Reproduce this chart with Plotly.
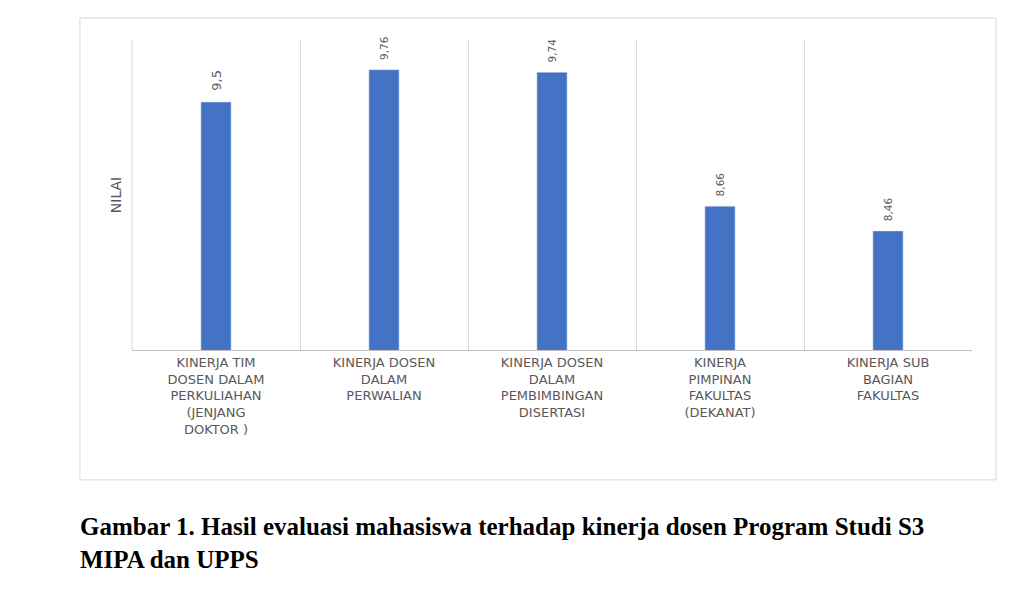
import plotly.graph_objects as go

categories = [
    "KINERJA TIM<br>DOSEN DALAM<br>PERKULIAHAN<br>(JENJANG<br>DOKTOR )",
    "KINERJA DOSEN<br>DALAM<br>PERWALIAN",
    "KINERJA DOSEN<br>DALAM<br>PEMBIMBINGAN<br>DISERTASI",
    "KINERJA<br>PIMPINAN<br>FAKULTAS<br>(DEKANAT)",
    "KINERJA SUB<br>BAGIAN<br>FAKULTAS",
]
values = [9.5, 9.76, 9.74, 8.66, 8.46]
labels = ["9,5", "9,76", "9,74", "8,66", "8,46"]

fig = go.Figure(go.Bar(
    x=categories, y=values,
    marker_color="#4472C4",
    width=0.18,
    text=["\u00a0\u00a0" + t for t in labels], textposition="outside", textangle=-90,
    textfont=dict(size=13, color="#595959"),
    cliponaxis=False,
))

fig.update_layout(
    width=1024, height=598,
    margin=dict(l=124, r=60, t=32, b=256),
    paper_bgcolor="white", plot_bgcolor="white",
    font=dict(family="DejaVu Sans, sans-serif", color="#595959"),
    showlegend=False,
    xaxis=dict(
        tickson="boundaries", showgrid=True, gridcolor="#D9D9D9",
        showline=True, linecolor="#BFBFBF", ticks="",
        tickfont=dict(size=13, color="#595959"), tickangle=0,
    ),
    yaxis=dict(
        range=[7.5, 10], showticklabels=False, showgrid=False,
        zeroline=False, title=dict(text="NILAI", font=dict(size=14, color="#595959"), standoff=6),
    ),
    shapes=[
        dict(type="rect", xref="paper", yref="paper",
             x0=-0.062, x1=1.0286, y0=-0.419, y1=1.071,
             line=dict(color="#D9D9D9", width=1)),
        dict(type="line", xref="paper", yref="paper",
             x0=0, x1=0, y0=0, y1=1, line=dict(color="#D9D9D9", width=1)),
    ],
    annotations=[
        dict(xref="paper", yref="paper", x=-0.064, y=-0.52,
             xanchor="left", yanchor="top", align="left", showarrow=False,
             text="<b>Gambar 1. Hasil evaluasi mahasiswa terhadap kinerja dosen Program Studi S3<br>MIPA dan UPPS</b>",
             font=dict(family="Liberation Serif, serif", size=25, color="black")),
    ],
)

fig.write_html("out.html")
